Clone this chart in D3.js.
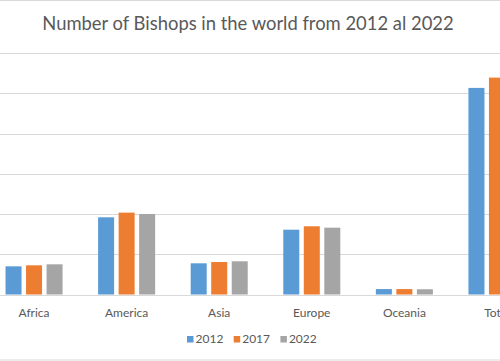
<!DOCTYPE html>
<html>
<head>
<meta charset="utf-8">
<script src="https://cdn.jsdelivr.net/npm/d3@7"></script>
<style>
  body { margin: 0; background: #fff; }
  svg { display: block; font-family: Lato, "Open Sans", sans-serif; }
</style>
</head>
<body>
<script>
// values
const categories = ["Africa", "America", "Asia", "Europe", "Oceania", "Total"];
const years = ["2012", "2017", "2022"];
const v2012 = [700, 1918, 775, 1610, 135, 5133];
const v2017 = [725, 2034, 807, 1695, 135, 5389];
const v2022 = [750, 2000, 825, 1660, 130, 5360];
const yTicks = [0, 1000, 2000, 3000, 4000, 5000, 6000];
const colors = ["#5b9bd5", "#ed7d31", "#a5a5a5"];

const series = [v2012, v2017, v2022];
const width = 500, height = 361;

const svg = d3.select("body").append("svg")
    .attr("width", width)
    .attr("height", height);

// chart area border (top/bottom visible in the crop)
svg.append("line").attr("x1", 0).attr("x2", width).attr("y1", 0.5).attr("y2", 0.5)
    .attr("stroke", "#d9d9d9");
svg.append("line").attr("x1", 0).attr("x2", width).attr("y1", 360).attr("y2", 360)
    .attr("stroke", "#d9d9d9");

x0 = d3.scaleBand()
    .domain(categories)
    .range([-12.25, 543.25])
    .paddingInner(0.384)
    .paddingOuter(0.192);

x1 = d3.scaleBand()
    .domain(years)
    .range([0, x0.bandwidth()])
    .paddingInner(0.22);

y = d3.scaleLinear()
    .domain([0, 6000])
    .range([294.5, 53]);

// gridlines
svg.append("g")
    .selectAll("line")
    .data(yTicks)
    .join("line")
    .attr("x1", 0)
    .attr("x2", width)
    .attr("y1", d => Math.round(y(d)) + 0.5)
    .attr("y2", d => Math.round(y(d)) + 0.5)
    .attr("stroke", "#d9d9d9")
    .attr("stroke-width", 1);

// bars
svg.append("g")
    .selectAll("g")
    .data(categories)
    .join("g")
    .attr("transform", d => `translate(${x0(d)},0)`)
    .selectAll("rect")
    .data((d, i) => years.map((yr, j) => ({yr, j, value: series[j][i]})))
    .join("rect")
    .attr("x", d => x1(d.yr))
    .attr("width", x1.bandwidth())
    .attr("y", d => y(d.value))
    .attr("height", d => y(0) - y(d.value))
    .attr("fill", d => colors[d.j]);

// category labels
svg.append("g")
    .selectAll("text")
    .data(categories)
    .join("text")
    .attr("x", d => x0(d) + x0.bandwidth() / 2)
    .attr("y", 317)
    .attr("text-anchor", "middle")
    .attr("font-size", 12)
    .attr("fill", "#595959")
    .text(d => d);

// title
svg.append("text")
    .attr("x", 248)
    .attr("y", 30)
    .attr("text-anchor", "middle")
    .attr("font-size", 18.4)
    .attr("fill", "#595959")
    .text("Number of Bishops in the world from 2012 al 2022");

// legend
const legend = svg.append("g")
    .selectAll("g")
    .data(years)
    .join("g")
    .attr("transform", (d, i) => `translate(${187 + i * 46.7},336)`);

legend.append("rect")
    .attr("width", 6.5)
    .attr("height", 6.5)
    .attr("fill", (d, i) => colors[i]);

legend.append("text")
    .attr("x", 8.5)
    .attr("y", 7)
    .attr("font-size", 12)
    .attr("fill", "#595959")
    .text(d => d);
</script>
</body>
</html>
